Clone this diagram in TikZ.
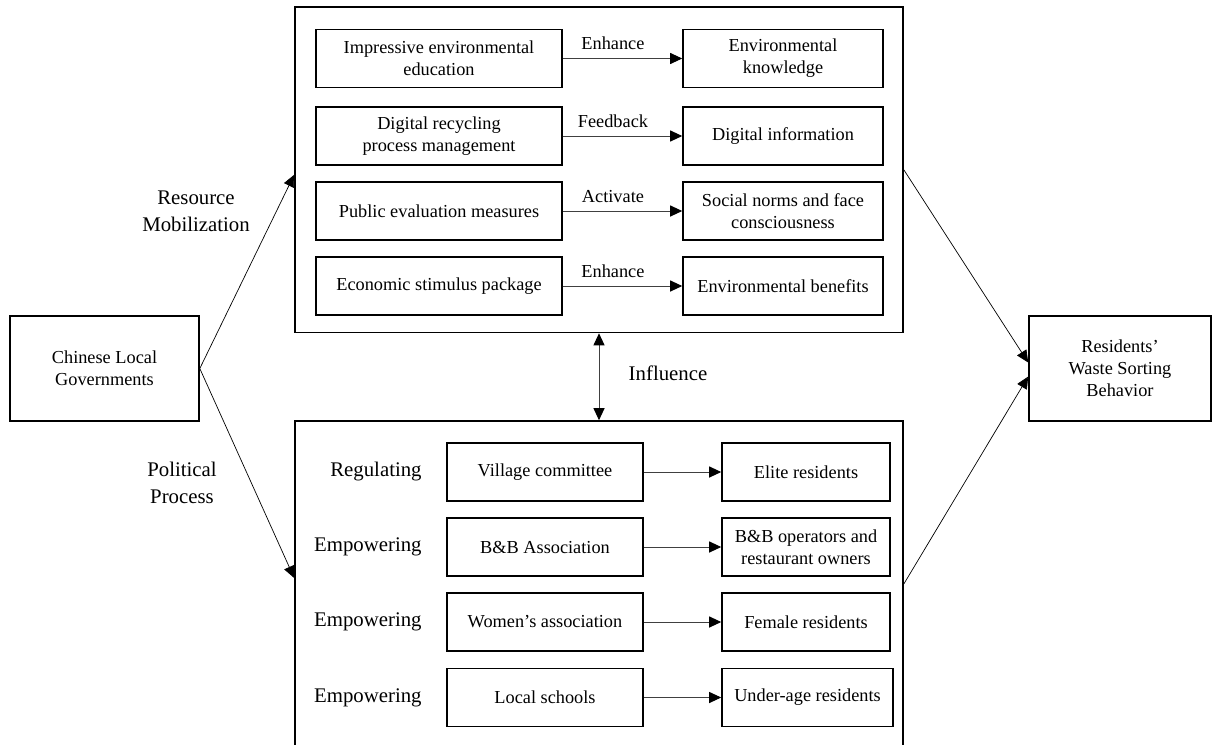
\documentclass[tikz,border=0pt]{standalone}
\usepackage{fontspec}
\setmainfont{Liberation Serif}
\usetikzlibrary{arrows.meta,positioning}

\begin{document}
\begin{tikzpicture}[
    x=0.5pt, y=-0.5pt,
    >={Triangle[length=6pt,width=5.5pt,black]},
    every node/.style={
        font=\fontsize{9.15}{11}\selectfont,
        inner sep=0pt,
        align=center
    },
    box/.style={draw, line width=0.8pt, minimum height=29pt},
    frame/.style={draw, line width=0.8pt},
    big/.style={font=\fontsize{10.4}{13.5}\selectfont},
    link/.style={draw=black!75, line width=0.5pt, ->},
    slant/.style={line width=0.35pt, ->}
]
\clip (0,0) rectangle (1213,744);

\node[frame, minimum width=304pt, minimum height=162.75pt] (upper) at (599,169.75) {};
\node[frame, minimum width=304pt, minimum height=163pt] (lower) at (599,584) {};
\node[box, minimum width=94.5pt, minimum height=52.5pt] (gov) at (104.5,368.5) {Chinese Local\\Governments};
\node[box, minimum width=91pt, minimum height=52.5pt] (res) at (1120,368.5) {Residents'\\Waste Sorting\\Behavior};

\node[box, minimum width=123pt] (edu) at (439,58.5) {Impressive environmental\\education};
\node[box, minimum width=100pt] (know) at (783,58.5) {Environmental\\knowledge};
\node[box, minimum width=123pt] (recy) at (439,136) {Digital recycling\\process management};
\node[box, minimum width=100pt] (info) at (783,136) {Digital information};
\node[box, minimum width=123pt] (eval) at (439,211) {Public evaluation measures};
\node[box, minimum width=100pt] (norm) at (783,211) {Social norms and face\\consciousness};
\node[box, minimum width=123pt] (econ) at (439,286) {Economic stimulus package};
\node[box, minimum width=100pt] (bene) at (783,286) {Environmental benefits};

\draw[link] (edu) -- node[pos=0.42, above=4pt] {Enhance} (know);
\draw[link] (recy) -- node[pos=0.42, above=4pt] {Feedback} (info);
\draw[link] (eval) -- node[pos=0.42, above=4pt] {Activate} (norm);
\draw[link] (econ) -- node[pos=0.42, above=4pt] {Enhance} (bene);

\node[box, minimum width=98pt] (vill) at (545,472) {Village committee};
\node[box, minimum width=84pt] (elite) at (806,472) {Elite residents};
\node[box, minimum width=98pt] (bnb) at (545,547) {B\&B Association};
\node[box, minimum width=84pt] (oper) at (806,547) {B\&B operators and\\restaurant owners};
\node[box, minimum width=98pt] (women) at (545,622) {Women's association};
\node[box, minimum width=84pt] (female) at (806,622) {Female residents};
\node[box, minimum width=98pt] (school) at (545,697.5) {Local schools};
\node[box, minimum width=85.5pt] (young) at (807.5,697.5) {Under-age residents};

\node[big, anchor=east] (reg) at (422,472) {Regulating};
\node[big, anchor=east] (emp1) at (422,547) {Empowering};
\node[big, anchor=east] (emp2) at (422,622) {Empowering};
\node[big, anchor=east] (emp3) at (422,697.5) {Empowering};

\draw[link] (vill) -- (elite);
\draw[link] (bnb) -- (oper);
\draw[link] (women) -- (female);
\draw[link] (school) -- (young);

\draw[link, <->] (upper.south) -- (lower.north);
\node[big] (infl) at (668,373) {Influence};

\node[big] (mob) at (196,211) {Resource\\Mobilization};
\node[big] (pol) at (182,483) {Political\\Process};

\draw[slant] (gov.east) -- ([yshift=-2.5pt]upper.west);
\draw[slant] (gov.east) -- ([yshift=3pt]lower.west);
\draw[slant] (upper.east) -- ([yshift=3pt]res.west);
\draw[slant] (lower.east) -- ([yshift=-4pt]res.west);
\end{tikzpicture}
\end{document}
